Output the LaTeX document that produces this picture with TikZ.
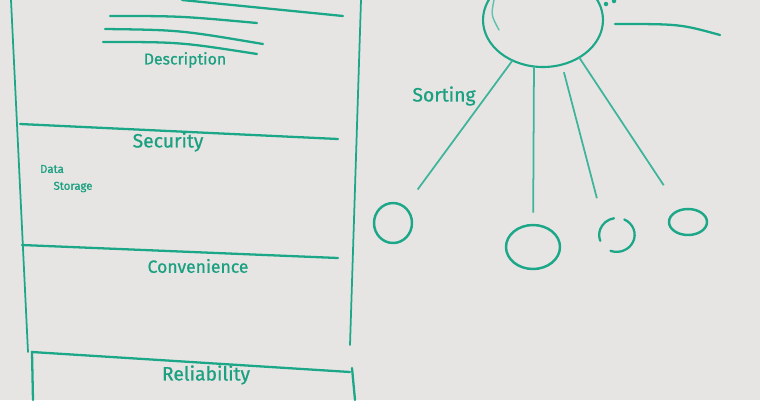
\documentclass[tikz,border=0pt]{standalone}
\usepackage{fontspec}
\newfontfamily\marker{Fira Sans}[FakeBold=0.8]
\usetikzlibrary{shapes.geometric,calc}
\definecolor{marker}{RGB}{28,168,136}
\definecolor{board}{RGB}{231,229,227}
\tikzstyle{hub}=[ellipse,draw=marker,line width=1.2pt,minimum width=2.4cm,minimum height=1.88cm,inner sep=0pt,outer sep=0pt]
\tikzstyle{leaf}=[ellipse,draw=marker,line width=1.4pt,inner sep=0pt,outer sep=0pt]
\tikzstyle{heading}=[text=marker!95!black,inner sep=1pt,font=\marker\fontsize{9}{10}\selectfont]
\tikzstyle{bigheading}=[heading,font=\marker\fontsize{11}{12}\selectfont]
\tikzstyle{note}=[text=marker!95!black,inner sep=1pt,font=\marker\fontsize{6.5}{7}\selectfont]
\tikzstyle{spoke}=[draw=marker!85,line width=1pt]
\tikzstyle{stroke}=[draw=marker,line width=1.3pt,line cap=round]

\begin{document}
\begin{tikzpicture}[x=0.02cm,y=-0.02cm]

   \fill[board] (0,0) rectangle (760,400);
   \clip (0,0) rectangle (760,400);

   % left panel
   \draw[stroke,line width=1pt] (11,0) -- (28,352);
   \draw[stroke,line width=1pt] (361,0) -- (350,345);
   \draw[stroke] (182,0) -- (343,16);
   \draw[stroke] (110,16) .. controls (180,16) .. (257,23);
   \draw[stroke] (105,29) .. controls (180,30) .. (263,44);
   \draw[stroke] (103,42) .. controls (180,42) .. (257,54);
   \draw[stroke] (20,124) -- (338,139);
   \draw[stroke] (22,245) -- (338,258);
   \draw[stroke] (33,400) -- (32,352) -- (350,372);
   \draw[stroke] (352,368) -- (355,400);

   \node[heading] (desc) at (185,60) {Description};
   \node[bigheading] (sec) at (168,142) {Security};
   \node[note] (data) at (52,169) {Data};
   \node[note] (storage) at (73,187) {Storage};
   \node[heading,font=\marker\fontsize{10}{11}\selectfont] (conv) at (198,266) {Convenience};
   \node[bigheading] (rel) at (206,375) {Reliability};

   % sorting tree
   \node[hub] (hub) at (543,20) {};
   \draw[stroke,line width=0.8pt,draw=marker!70] (494,0) .. controls (491,15) .. (499,30);
   \fill[marker] (606,4) circle (0.045cm);
   \fill[marker] (614,1) circle (0.045cm);
   \draw[stroke] (615,24) .. controls (680,24) .. (720,35);

   \foreach \pos/ \name / \w / \h in {(393,223)/la/0.76cm/0.8cm, (533,247)/lb/1.08cm/0.88cm, (688,222)/ld/0.76cm/0.52cm}
        \node[leaf,minimum width=\w,minimum height=\h] (\name) at \pos {};
   \node[leaf,draw=none,minimum width=0.72cm,minimum height=0.68cm] (lc) at (617,235) {};
   \draw[stroke] (lc.100) arc[start angle=100,end angle=200,x radius=0.36cm,y radius=0.34cm];
   \draw[stroke] (lc.65) arc[start angle=65,end angle=-110,x radius=0.36cm,y radius=0.34cm];

   \foreach \source/ \dest / \a / \b in {hub.233/la/0pt/12.5pt, hub.259/lb/0pt/7pt, hub.293/lc.140/4.5pt/15pt, hub.314/ld/0pt/17pt}
        \draw[spoke,shorten <=\a,shorten >=\b] (\source) -- (\dest);

   \node[bigheading] (sort) at (444,96) {Sorting};
\end{tikzpicture}
\end{document}
